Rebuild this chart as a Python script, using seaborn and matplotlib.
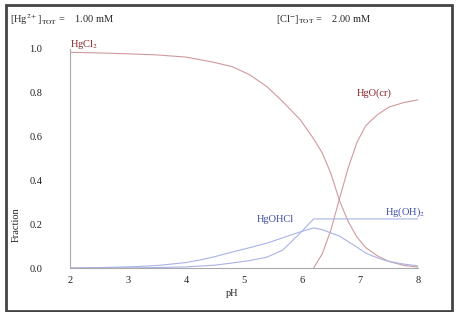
import numpy as np
import pandas as pd
import matplotlib
matplotlib.use("Agg")
import matplotlib.pyplot as plt
from matplotlib.patches import Rectangle
import seaborn as sns

# pH grid and fractions
ph = [2, 2.5, 3, 3.5, 4, 4.25, 4.5, 4.8, 5.1, 5.4, 5.67, 5.97, 6.2,
      6.35, 6.5, 6.65, 6.8, 6.95, 7.1, 7.3, 7.5, 7.75, 8]
hgcl2 = [0.985, 0.982, 0.978, 0.973, 0.963, 0.951, 0.938, 0.919, 0.882, 0.827, 0.759, 0.677, 0.59,
         0.525, 0.43, 0.305, 0.21, 0.14, 0.093, 0.055, 0.03, 0.012, 0.004]
hgo_cr = [np.nan] * 12 + [0.0,
          0.065, 0.175, 0.32, 0.46, 0.575, 0.65, 0.70, 0.735, 0.755, 0.768]
hgoh2 = [0.0, 0.0, 0.0005, 0.002, 0.005, 0.009, 0.013, 0.023, 0.034, 0.05, 0.082, 0.16, 0.224,
         0.224, 0.224, 0.224, 0.224, 0.224, 0.224, 0.224, 0.224, 0.224, 0.224]
hgohcl = [0.0, 0.002, 0.005, 0.011, 0.025, 0.037, 0.052, 0.073, 0.093, 0.114, 0.138, 0.165, 0.183,
          0.175, 0.16, 0.145, 0.12, 0.095, 0.068, 0.046, 0.03, 0.018, 0.01]

especies = ["HgCl2", "HgO(cr)", "Hg(OH)2", "HgOHCl"]
df = pd.DataFrame({"pH": ph, "HgCl2": hgcl2, "HgO(cr)": hgo_cr,
                   "Hg(OH)2": hgoh2, "HgOHCl": hgohcl})
largo = df.melt(id_vars="pH", value_vars=especies, var_name="especie", value_name="frac").dropna()

rojo, azul = "#d09a9c", "#a9b3e6"
rojo_txt, azul_txt = "#8b2226", "#3a4aa5"
paleta = {"HgCl2": rojo, "HgO(cr)": rojo, "Hg(OH)2": azul, "HgOHCl": azul}

sns.set_style("white")
plt.rcParams["font.family"] = ["Liberation Serif", "DejaVu Serif"]
plt.rcParams["mathtext.fontset"] = "stix"

fig = plt.figure(figsize=(4.6, 3.12), dpi=100)
ax = fig.add_axes([70/460, 1 - 268/312, 348/460, 219/312])
sns.lineplot(data=largo, x="pH", y="frac", hue="especie", palette=paleta,
             estimator=None, sort=True, linewidth=0.8, legend=False, ax=ax)

ax.set_xlim(2, 8)
ax.set_ylim(0, 1)
ax.set_xticks([2, 3, 4, 5, 6, 7, 8])
ax.set_xticks(np.arange(2, 8.01, 0.5), minor=True)
ax.set_yticks([0, 0.2, 0.4, 0.6, 0.8, 1.0])
ax.set_yticks(np.arange(0, 1.01, 0.1), minor=True)
ax.set_yticklabels(["0.0", "0.2", "0.4", "0.6", "0.8", "1.0"])
ax.tick_params(which="both", direction="in", length=4, width=0.7, color="#aaaaaa",
               labelsize=7.5, labelcolor="#222222")
ax.tick_params(axis="y", pad=20)
ax.tick_params(axis="x", pad=6)
ax.set_xlabel("")
ax.set_ylabel("")
for s in ["top", "right"]:
    ax.spines[s].set_visible(False)
for s in ["left", "bottom"]:
    ax.spines[s].set_color("#aaaaaa")
    ax.spines[s].set_linewidth(0.8)

# etiquetas de especies
ax.text(2.0, 1.02, r"HgCl$_2$", color=rojo_txt, fontsize=7.5, va="center", clip_on=False)
ax.text(6.95, 0.80, "HgO(cr)", color=rojo_txt, fontsize=7.5, va="center")
ax.text(5.22, 0.22, "HgOHCl", color=azul_txt, fontsize=7.5, va="center")
ax.text(7.43, 0.256, r"Hg(OH)$_2$", color=azul_txt, fontsize=7.5, va="center", clip_on=False)

fig.text(10/460, 1 - 20/312, r"[Hg$^{2+}$]$_{\rm TOT}$ =    1.00 mM", fontsize=7.5, va="center")
fig.text(276/460, 1 - 20/312, r"[Cl$^{-}$]$_{\rm TOT}$ =    2.00 mM", fontsize=7.5, va="center")
fig.text(16/460, 1 - 225/312, "Fraction", rotation=90, fontsize=7.5, ha="center", va="center")
fig.text(232/460, 1 - 293/312, "pH", fontsize=7.5, ha="center", va="center")

fig.patches.append(Rectangle((6/460, 1/312), 446/460, 306/312, fill=False, lw=2,
                             ec="#444444", transform=fig.transFigure))

plt.savefig("out.png", dpi=100)
